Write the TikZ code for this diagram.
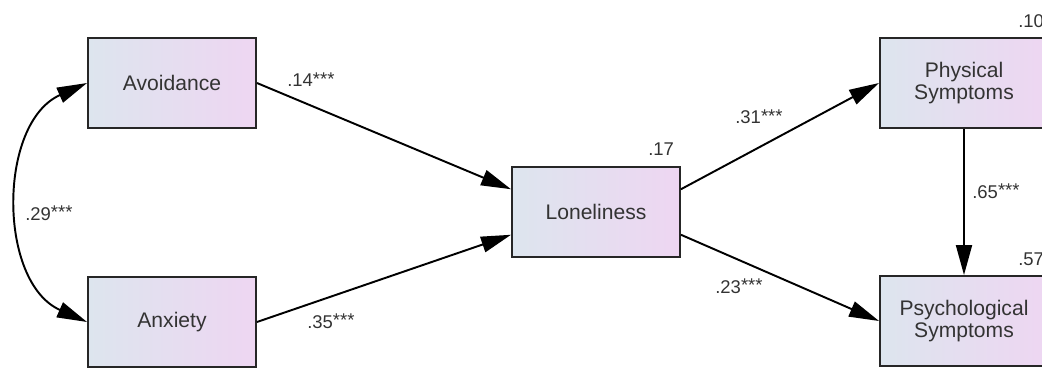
\documentclass[tikz,border=0pt]{standalone}
\usepackage{fontspec}
\setmainfont{Liberation Sans}
\usetikzlibrary{arrows.meta}
\definecolor{boxleft}{RGB}{221,229,238}
\definecolor{boxright}{RGB}{238,214,242}
\definecolor{labelgray}{RGB}{51,51,51}

\begin{document}
\begin{tikzpicture}[x=0.02cm, y=-0.02cm]
        \tikzstyle{every node}=[font=\fontsize{12}{13}\selectfont]
        \tikzstyle{var}=[draw=black!85, line width=1.1pt, left color=boxleft, right color=boxright,
            minimum width=3.36cm, minimum height=1.8cm, align=center, text=black!80, inner sep=0pt]
        \tikzstyle{effect}=[line width=1.1pt, -{Triangle[length=0.6cm,width=0.32cm]}]
        \tikzstyle{coef}=[font=\fontsize{10.5}{12}\selectfont, text=labelgray, anchor=base west, inner sep=0pt]

        \useasboundingbox (0,0) rectangle (1042,368);

        % observed variables
        \node[var] (avoid) at (172,83) {Avoidance};
        \node[var] (anx) at (172,322) {Anxiety};
        \node[var] (lone) at (596,212) {Loneliness};
        \node[var] (phys) at (964,83) {Physical\\Symptoms};
        \node[var] (psych) at (964,321) {Psychological\\Symptoms};

        % paths
        \draw[effect] (avoid.east) -- (lone.165);
        \draw[effect] (anx.east) -- (lone.195);
        \draw[effect] (lone.15) -- (phys.west);
        \draw[effect] (lone.-15) -- (psych.west);
        \draw[effect] (phys.south) -- (psych.north);
        %covariance
        \draw[line width=1.1pt, {Triangle[length=0.6cm,width=0.32cm]}-{Triangle[length=0.6cm,width=0.32cm]}]
            (avoid.west) to[out=204, in=156, looseness=1.05] (anx.west);

        % coefficients
        \node[coef] (c14) at (287,87) {.14\raisebox{1pt}{***}};
        \node[coef] (c35) at (307,328) {.35\raisebox{1pt}{***}};
        \node[coef] (c31) at (735,124) {.31\raisebox{1pt}{***}};
        \node[coef] (c23) at (715,293) {.23\raisebox{1pt}{***}};
        \node[coef] (c65) at (972,198) {.65\raisebox{1pt}{***}};
        \node[coef] (c29) at (25,220) {.29\raisebox{1pt}{***}};
        % explained variance
        \node[coef] (r17) at (648,155) {.17};
        \node[coef] (r10) at (1018,28) {.10};
        \node[coef] (r57) at (1018,265) {.57};
\end{tikzpicture}
\end{document}
